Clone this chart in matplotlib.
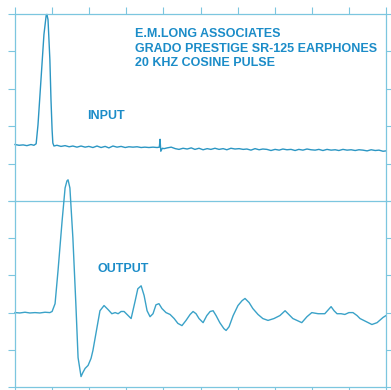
import matplotlib
matplotlib.use("Agg")
import matplotlib.pyplot as plt

# time in microseconds (100 us / div), amplitude in divisions above baseline
input_t = [0, 11, 22, 32, 43, 51, 57, 62, 70, 78, 84, 86, 89, 94, 97, 100, 102, 105,
           113, 124, 135, 146, 156, 167, 178, 189, 199, 210, 221, 232, 243, 253, 264,
           275, 286, 297, 307, 318, 329, 340, 350, 361, 372, 383, 389, 391, 393, 397,
           402, 410, 421, 432, 442, 453, 464, 475, 485, 496, 507, 518, 528, 539, 550,
           561, 571, 582, 593, 604, 615, 625, 636, 647, 658, 668, 679, 690, 701, 712,
           722, 733, 744, 755, 765, 776, 787, 798, 809, 819, 830, 841, 852, 863, 873,
           884, 895, 906, 917, 927, 938, 949, 960, 971, 981, 992, 1000]
input_a = [0.01, -0.01, 0.00, -0.02, 0.01, -0.01, 0.03, 0.54, 1.74, 2.95, 3.46, 3.49, 3.35, 2.28, 1.21, 0.40, 0.05, -0.03,
           -0.01, -0.04, -0.02, -0.05, -0.03, -0.06, -0.03, -0.06, -0.04, -0.07, -0.03, -0.07, -0.04, -0.08, -0.03,
           -0.06, -0.04, -0.07, -0.05, -0.06, -0.05, -0.07, -0.06, -0.07, -0.06, -0.07, -0.06, 0.15, -0.17, -0.09,
           -0.10, -0.08, -0.06, -0.10, -0.12, -0.09, -0.11, -0.08, -0.12, -0.09, -0.13, -0.10, -0.12, -0.09, -0.12,
           -0.10, -0.13, -0.09, -0.11, -0.10, -0.12, -0.11, -0.14, -0.10, -0.13, -0.11, -0.12, -0.15, -0.12, -0.14,
           -0.11, -0.13, -0.12, -0.15, -0.12, -0.14, -0.11, -0.13, -0.14, -0.12, -0.15, -0.12, -0.14, -0.13, -0.15,
           -0.12, -0.14, -0.13, -0.15, -0.13, -0.14, -0.16, -0.13, -0.15, -0.14, -0.17, -0.16]

output_t = [0, 13, 27, 40, 54, 67, 81, 94, 100, 108, 116, 127, 135, 140, 143, 148, 156, 164,
            170, 178, 183, 189, 197, 205, 210, 221, 229, 240, 251, 261, 270, 278, 286, 294,
            305, 313, 324, 331, 340, 348, 356, 364, 372, 380, 388, 396, 407, 418, 429, 439,
            450, 461, 472, 480, 488, 496, 507, 517, 526, 534, 542, 552, 563, 569, 577, 588,
            601, 612, 620, 631, 641, 655, 668, 682, 698, 714, 728, 738, 749, 760, 773, 787,
            800, 817, 835, 852, 860, 868, 879, 889, 900, 911, 922, 930, 946, 962, 976, 992, 1000]
output_a = [0.00, -0.01, 0.01, -0.01, 0.00, -0.01, 0.01, 0.00, 0.03, 0.24, 1.13, 2.47, 3.35, 3.54, 3.57, 3.35, 2.01, 0.24,
            -1.21, -1.72, -1.61, -1.50, -1.42, -1.23, -1.02, -0.40, 0.05, 0.19, 0.08, -0.03, 0.00, -0.03, 0.03, 0.03,
            -0.08, -0.16, 0.32, 0.64, 0.72, 0.46, 0.05, -0.11, -0.03, 0.21, 0.24, 0.11, 0.00, -0.05, -0.16, -0.29,
            -0.35, -0.21, -0.05, 0.03, -0.03, -0.16, -0.27, -0.08, 0.03, 0.05, -0.08, -0.27, -0.43, -0.48, -0.38, -0.08,
            0.19, 0.32, 0.38, 0.27, 0.11, -0.05, -0.16, -0.21, -0.16, -0.08, 0.05, -0.05, -0.16, -0.21, -0.27, -0.11,
            0.00, -0.03, -0.03, 0.16, 0.05, -0.03, -0.03, -0.05, 0.00, 0.00, -0.08, -0.16, -0.24, -0.32, -0.27, -0.13, -0.08]

title_lines = ["E.M.LONG ASSOCIATES", "GRADO PRESTIGE SR-125 EARPHONES", "20 KHZ COSINE PULSE"]

trace_col = "#2b96c3"
frame_col = "#7cc6df"
text_col = "#1b8cc8"

plt.rcParams['font.family'] = ['Liberation Sans', 'DejaVu Sans']
fig = plt.figure(figsize=(3.91, 3.90), dpi=100)

ax_in = fig.add_axes([15 / 391, 1 - 201 / 390, 371 / 391, 187 / 390])
ax_out = fig.add_axes([15 / 391, 1 - 387 / 390, 371 / 391, 186 / 390])

for ax, ylo in ((ax_in, -1.5), (ax_out, -2.0)):
    ax.set_xlim(0, 1000)
    ax.set_ylim(ylo, ylo + 5)
    ax.set_xticks(range(0, 1001, 100))
    ax.set_yticks([ylo + k for k in range(6)])
    ax.tick_params(direction='out', length=5, width=0.8, color=frame_col,
                   labelleft=False, labelbottom=False, labeltop=False, labelright=False,
                   left=True, right=True)
    for s in ax.spines.values():
        s.set_color(frame_col)
        s.set_linewidth(0.9)
    ax.patch.set_alpha(0)

ax_in.tick_params(top=True, bottom=False)
ax_out.tick_params(top=False, bottom=True)
ax_out.spines['top'].set_visible(False)

ax_in.plot(input_t, input_a, color=trace_col, lw=1.0, clip_on=False)
ax_out.plot(output_t, output_a, color="#3aa2c8", lw=1.0, clip_on=False)

for i, line in enumerate(title_lines):
    fig.text(135 / 391, 1 - (37 + 14.5 * i) / 390, line, color=text_col,
             fontsize=9.0, fontweight='bold', va='baseline', ha='left')
fig.text(87 / 391, 1 - 119 / 390, "INPUT", color=text_col, fontsize=9.0,
         fontweight='bold', va='baseline', ha='left')
fig.text(97 / 391, 1 - 272 / 390, "OUTPUT", color=text_col, fontsize=9.0,
         fontweight='bold', va='baseline', ha='left')

fig.savefig("out.png", dpi=100)
